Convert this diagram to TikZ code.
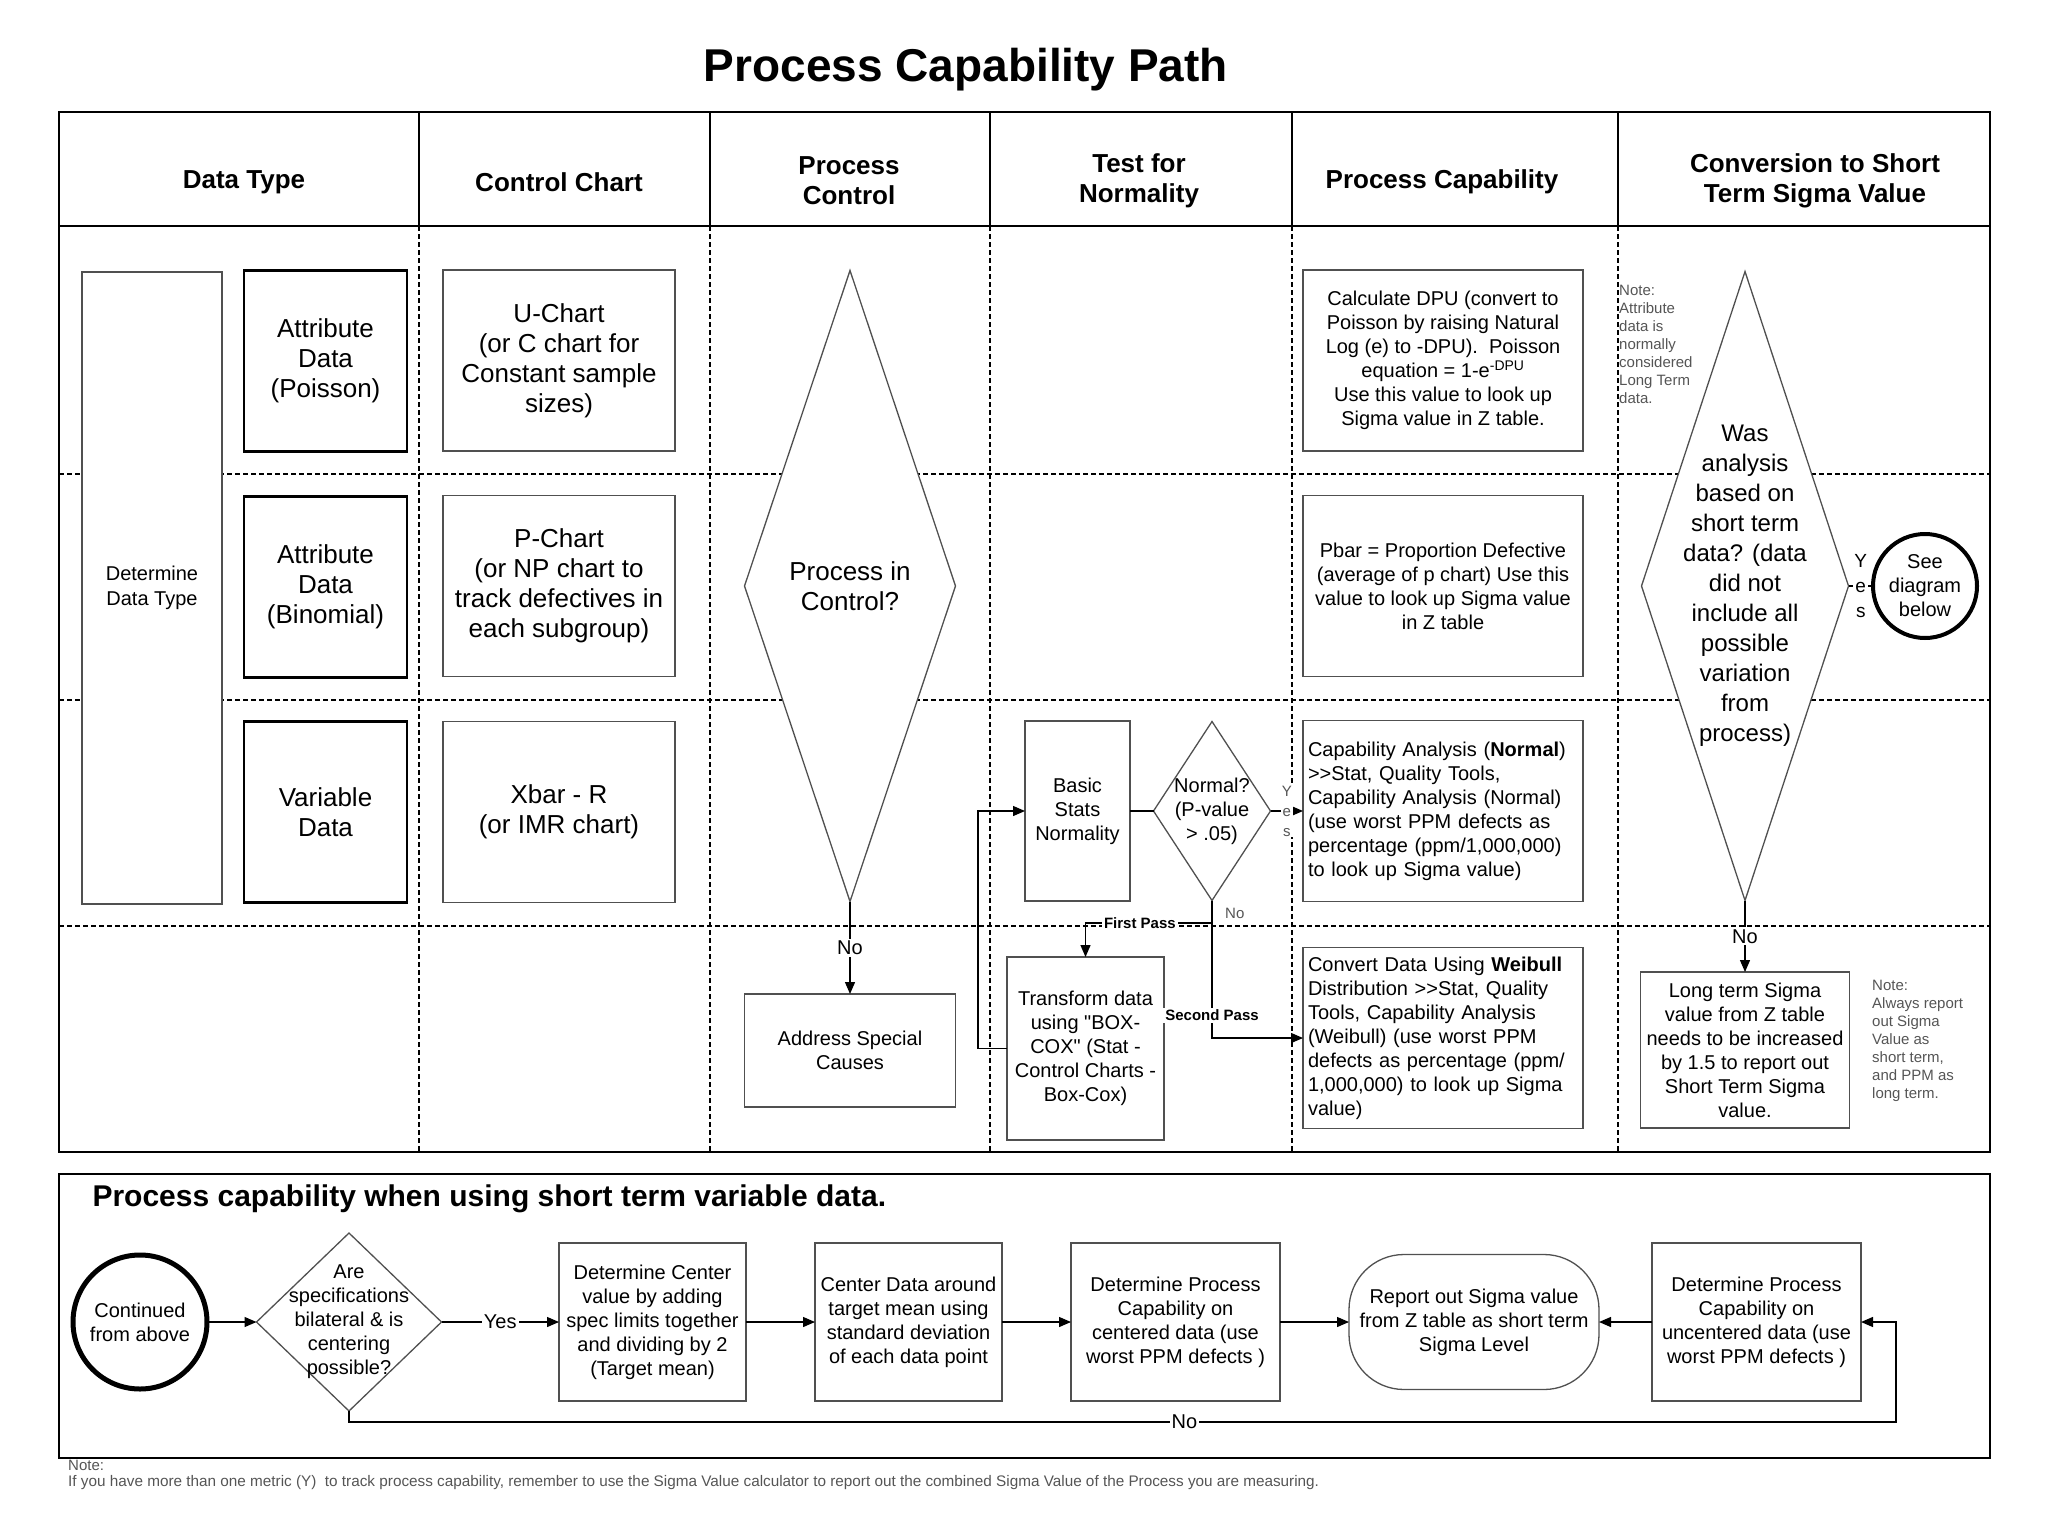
\documentclass[tikz,border=0pt]{standalone}
\usepackage{fontspec}
\setmainfont{Liberation Sans}[Ligatures=TeXOff]
\usetikzlibrary{arrows.meta,shapes.geometric}

\definecolor{boxgray}{RGB}{80,80,80}
\definecolor{notegray}{RGB}{85,85,85}

\newcommand\sizetitle{\fontsize{46}{52}\selectfont}
\newcommand\sizehead{\fontsize{26}{30}\selectfont}
\newcommand\sizebig{\fontsize{26}{30}\selectfont}
\newcommand\sizemid{\fontsize{20}{24}\selectfont}
\newcommand\sizenote{\fontsize{15}{18}\selectfont}

\tikzset{
  outline/.style={line width=2.6pt},
  lane/.style={line width=1.5pt, dash pattern=on 5pt off 3pt},
  cell/.style={draw=boxgray, line width=1.3pt, fill=white, align=center,
    inner sep=4pt, outer sep=0pt, font=\sizemid},
  kind/.style={cell, draw=black, line width=2.6pt, font=\sizebig,
    minimum width=163pt, minimum height=181pt},
  chart/.style={cell, font=\sizebig, minimum width=232pt, minimum height=181pt},
  capbox/.style={cell, minimum width=280pt, minimum height=181pt},
  choice/.style={diamond, draw=boxgray, line width=1.3pt, fill=white,
    inner sep=0pt, outer sep=0pt},
  term/.style={circle, draw=black, fill=white, inner sep=0pt, outer sep=0pt,
    align=center, font=\sizemid},
  flow/.style={line width=1.3pt, -{Triangle[length=12pt,width=10pt]}},
  link/.style={line width=1.3pt},
  lbl/.style={fill=white, inner sep=2pt, font=\sizemid},
  passlbl/.style={fill=white, inner sep=2pt, font=\sizenote\bfseries},
  stack/.style={fill=white, inner sep=1pt, align=center},
  note/.style={text=notegray, font=\sizenote, align=left, inner sep=0pt}
}

\begin{document}
\begin{tikzpicture}[x=1pt,y=-1pt]
\useasboundingbox (0,0) rectangle (2048,1536);
\node[font=\sizetitle\bfseries] (title) at (966,70) {Process Capability Path};

% swim lanes
\foreach \y in {474,700,926}
  \draw[lane] (59,\y) -- (1990,\y);
\foreach \x in {419,710,990,1292,1618} {
  \draw[lane] (\x,226) -- (\x,1152);
  \draw[line width=1.5pt] (\x,112) -- (\x,226);
}
\draw[outline] (59,112) rectangle (1990,1152);
\draw[outline] (59,226) -- (1990,226);

% column headers
\node[font=\sizehead\bfseries, align=center] (hdata) at (244,182) {Data Type};
\node[font=\sizehead\bfseries, align=center] (hchart) at (559,182) {Control Chart};
\node[font=\sizehead\bfseries, align=center] (hcontrol) at (849,181) {Process\\Control};
\node[font=\sizehead\bfseries, align=center] (hnormal) at (1139,181) {Test for\\Normality};
\node[font=\sizehead\bfseries, align=center] (hcap) at (1442,182) {Process Capability};
\node[font=\sizehead\bfseries, align=center] (hshort) at (1815,181) {Conversion to Short\\Term Sigma Value};

% data type
\node[cell, minimum width=140pt, minimum height=632pt, font=\fontsize{20}{25}\selectfont]
  (dtype) at (152,588) {Determine\\Data Type};
\node[kind] (attpois) at (325.5,361) {Attribute\\Data\\(Poisson)};
\node[kind] (attbin) at (325.5,587) {Attribute\\Data\\(Binomial)};
\node[kind] (vardata) at (325.5,812) {Variable\\Data};

% control charts
\node[chart] (uchart) at (559,360.5) {U-Chart\\(or C chart for\\Constant sample\\sizes)};
\node[chart] (pchart) at (559,586) {P-Chart\\(or NP chart to\\track defectives in\\each subgroup)};
\node[chart] (xbar) at (559,812) {Xbar - R\\(or IMR chart)};

% process control
\node[choice, minimum width=211pt, minimum height=631pt] (pic) at (850,586) {};
\node[font=\sizebig, align=center] (pictext) at (pic) {Process in\\Control?};
\node[cell, minimum width=211pt, minimum height=113pt] (special) at (850,1050.5) {Address Special\\Causes};

% normality
\node[cell, minimum width=105pt, minimum height=180pt] (stats) at (1077.5,811) {Basic\\Stats\\Normality};
\node[choice, minimum width=117pt, minimum height=179pt] (normal) at (1212,811) {};
\node[font=\sizemid, align=center] (normaltext) at (normal) {Normal?\\(P-value\\> .05)};
\node[cell, minimum width=157pt, minimum height=183pt] (transform) at (1085.5,1048.5)
  {Transform data\\using "BOX-\\COX" (Stat -\\Control Charts -\\Box-Cox)};

% capability
\node[capbox] (dpu) at (1443,360.5) {Calculate DPU (convert to\\Poisson by raising Natural\\Log (e) to -DPU).~ Poisson\\equation = 1-e\textsuperscript{-DPU}\\Use this value to look up\\Sigma value in Z table.};
\node[capbox] (pbar) at (1443,586) {Pbar = Proportion Defective\\(average of p chart) Use this\\value to look up Sigma value\\in Z table};
\node[capbox, align=left, text width=270pt] (normcap) at (1443,811) {Capability Analysis (\textbf{Normal})\\>>Stat, Quality Tools,\\Capability Analysis (Normal)\\(use worst PPM defects as\\percentage (ppm/1,000,000)\\to look up Sigma value)};
\node[capbox, align=left, text width=270pt] (weib) at (1443,1038) {Convert Data Using \textbf{Weibull}\\Distribution >>Stat, Quality\\Tools, Capability Analysis\\(Weibull) (use worst PPM\\defects as percentage (ppm/\\1,000,000) to look up Sigma\\value)};

% short term conversion
\node[note, anchor=north west] (ltnote) at (1619,285) {Note:\\Attribute\\data is\\normally\\considered\\Long Term\\data.};
\node[choice, minimum width=207pt, minimum height=629pt] (short) at (1745,586) {};
\node[font=\fontsize{24}{30}\selectfont, align=center] (shorttext) at (short) {Was\\analysis\\based on\\short term\\data? (data\\did not\\include all\\possible\\variation\\from\\process)};
\node[term, line width=4pt, minimum size=104pt] (seebelow) at (1925,586) {See\\diagram\\below};
\node[cell, minimum width=209pt, minimum height=156pt] (longterm) at (1745,1050) {Long term Sigma\\value from Z table\\needs to be increased\\by 1.5 to report out\\Short Term Sigma\\value.};
\node[note, anchor=north west] (stnote) at (1872,980) {Note:\\Always report\\out Sigma\\Value as\\short term,\\and PPM as\\long term.};

% connectors
\draw[flow] (pic) -- node[lbl]{No} (special);
\draw[link] (stats) -- (normal);
\draw[flow] (normal) -- node[stack, text=notegray, font=\fontsize{15}{20}\selectfont]{Y\\e\\s} (normcap);
\coordinate (split) at (1212,923);
\draw[link] (normal.south) -- (split);
\draw[flow] (split) -| node[passlbl, pos=0.285]{First Pass} (transform.north);
\draw[flow] (split) |- node[passlbl, pos=0.4]{Second Pass} (weib.west);
\coordinate (loopturn) at (978,1048.5);
\draw[flow] (transform.west) -- (loopturn) |- (stats.west);
\node[note, anchor=west] (nonormal) at (1225,913) {No};
\draw[flow] (short) -- node[lbl]{No} (longterm);
\draw[link] (short) -- node[stack, font=\fontsize{19}{25}\selectfont]{Y\\e\\s} (seebelow);

% short term variable data
\draw[outline] (59,1174) rectangle (1990,1458);
\node[font=\fontsize{30}{34}\selectfont\bfseries, anchor=west] (subtitle) at (89,1199)
  {Process capability when using short term variable data.};
\node[term, line width=5pt, minimum size=134pt] (cont) at (140,1322) {Continued\\from above};
\node[choice, minimum width=185pt, minimum height=178pt] (spec) at (349,1322) {};
\node[font=\sizemid, align=center] (spectext) at (spec) {Are\\specifications\\bilateral \& is\\centering\\possible?};
\node[cell, minimum width=187pt, minimum height=158pt] (target) at (652.5,1322) {Determine Center\\value by adding\\spec limits together\\and dividing by 2\\(Target mean)};
\node[cell, minimum width=187pt, minimum height=158pt] (shift) at (908.5,1322) {Center Data around\\target mean using\\standard deviation\\of each data point};
\node[cell, minimum width=209pt, minimum height=158pt] (centered) at (1175.5,1322) {Determine Process\\Capability on\\centered data (use\\worst PPM defects )};
\node[cell, rounded corners=55pt, minimum width=250pt, minimum height=135pt] (report) at (1474,1322) {Report out Sigma value\\from Z table as short term\\Sigma Level};
\node[cell, minimum width=209pt, minimum height=158pt] (uncent) at (1756.5,1322) {Determine Process\\Capability on\\uncentered data (use\\worst PPM defects )};

\draw[flow] (cont) -- (spec);
\draw[flow] (spec) -- node[lbl]{Yes} (target);
\draw[flow] (target) -- (shift);
\draw[flow] (shift) -- (centered);
\draw[flow] (centered) -- (report);
\draw[flow] (uncent) -- (report);
\coordinate (noturn) at (1896,1422);
\draw[flow] (spec.south) |- node[lbl, pos=0.77]{No} (noturn) |- (uncent.east);

% footnote
\node[note, anchor=west, font=\fontsize{15}{17}\selectfont] (fnhead) at (68,1465) {Note:};
\node[note, anchor=west, font=\fontsize{15.3}{17}\selectfont] (fnbody) at (68,1483) {If you have more than one metric (Y)~ to track process capability, remember to use the Sigma Value calculator to report out the combined Sigma Value of the Process you are measuring.};
\end{tikzpicture}
\end{document}
